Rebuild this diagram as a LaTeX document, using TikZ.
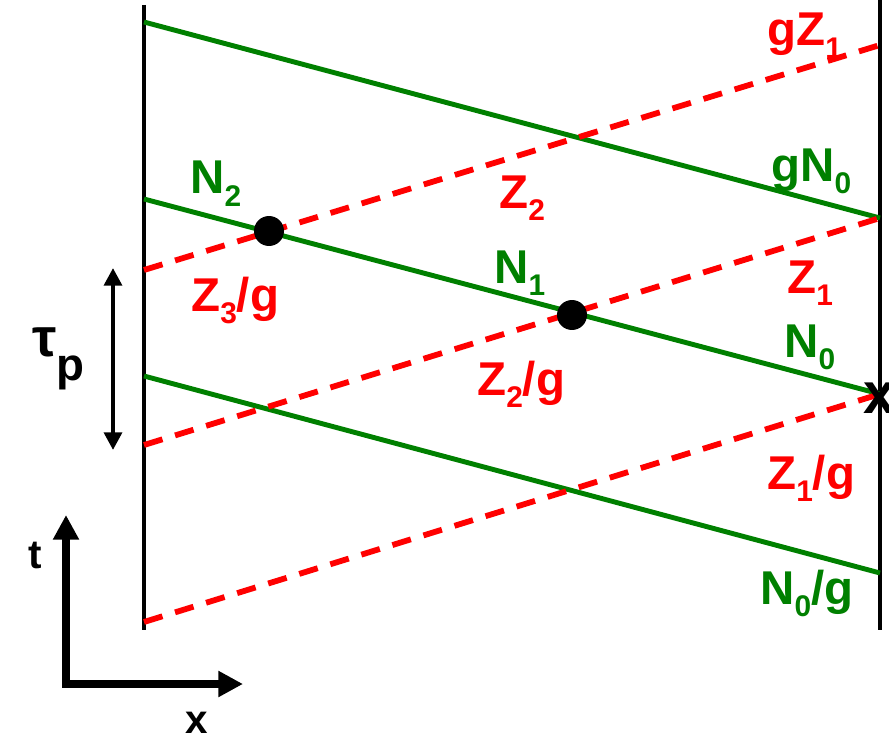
\documentclass[tikz,border=0pt]{standalone}
\usepackage{fontspec}
\setmainfont{Liberation Sans}
\usetikzlibrary{arrows.meta}
\definecolor{wgreen}{RGB}{0,128,0}
\definecolor{zred}{RGB}{255,0,0}
\tikzset{
  wall/.style={line width=2.8pt},
  nline/.style={wgreen, line width=2.8pt},
  zline/.style={zred, line width=3.3pt, dash pattern=on 11pt off 7.5pt},
  lab/.style={anchor=base west, inner sep=0pt, font=\fontsize{27}{30}\selectfont\bfseries},
  nlab/.style={lab, text=wgreen},
  zlab/.style={lab, text=zred},
  blab/.style={lab, font=\fontsize{23}{25}\selectfont\bfseries},
  dot/.style={circle, fill, inner sep=0pt, minimum size=0.6cm}
}
\newcommand{\sub}[1]{\raisebox{-7pt}{\fontsize{17}{17}\selectfont #1}}
\begin{document}
\begin{tikzpicture}[x=0.02cm, y=-0.02cm]
  \useasboundingbox (0,0) rectangle (889,740);
  % walls
  \coordinate (lt) at (144,5);   \coordinate (lb) at (144,630);
  \coordinate (rt) at (880,0);   \coordinate (rb) at (880,630);
  \draw[wall] (lt) -- (lb);
  \draw[wall] (rt) -- (rb);
  % green lines
  \foreach \i/\yl/\yr in {a/22/218, b/199/394, c/376/573} {
    \coordinate (nl\i) at (144,\yl);
    \coordinate (nr\i) at (880,\yr);
    \draw[nline] (nl\i) -- (nr\i);
  }
  % red dashed lines
  \foreach \i/\yl/\yr in {a/270/45, b/445/218, c/622/394} {
    \coordinate (zl\i) at (144,\yl);
    \coordinate (zr\i) at (880,\yr);
    \draw[zline] (zl\i) -- (zr\i);
  }
  \node[dot] (d1) at (269,231) {};
  \node[dot] (d2) at (572,315) {};
  \node[font=\fontsize{33}{36}\selectfont\bfseries, inner sep=0pt] (xm) at (880,398) {x};
  % labels
  \node[zlab] (gz1) at (767,46)  {gZ\sub{1}};
  \node[nlab] (gn0) at (771,181) {gN\sub{0}};
  \node[nlab] (n2)  at (190,194) {N\sub{2}};
  \node[zlab] (z2)  at (499,208) {Z\sub{2}};
  \node[zlab] (z3g) at (191,311) {Z\sub{3}/g};
  \node[nlab] (n1)  at (494,283) {N\sub{1}};
  \node[zlab] (z1)  at (787,293) {Z\sub{1}};
  \node[nlab] (n0)  at (784,357) {N\sub{0}};
  \node[zlab] (z2g) at (477,395) {Z\sub{2}/g};
  \node[zlab] (z1g) at (767,489) {Z\sub{1}/g};
  \node[nlab] (n0g) at (760,604) {N\sub{0}/g};
  % tau_p
  \coordinate (tt) at (113,268); \coordinate (tb) at (113,450);
  \draw[line width=2.4pt, {Triangle[length=10pt,width=10pt]}-{Triangle[length=10pt,width=10pt]}] (tt) -- (tb);
  \node[blab, font=\fontsize{31}{33}\selectfont\bfseries] (tau) at (32,356) {τ\raisebox{-14pt}{\fontsize{26}{28}\selectfont p}};
  % axes
  \coordinate (o) at (66,684);
  \coordinate (ty) at (66,515);
  \coordinate (tx) at (243,684);
  \draw[line width=4pt, {Triangle[length=14pt,width=14pt]}-{Triangle[length=14pt,width=14pt]}, line join=miter] (ty) -- (o) -- (tx);
  \node[blab] (tl) at (28,568) {t};
  \node[blab] (xl) at (185,733) {x};
\end{tikzpicture}
\end{document}
